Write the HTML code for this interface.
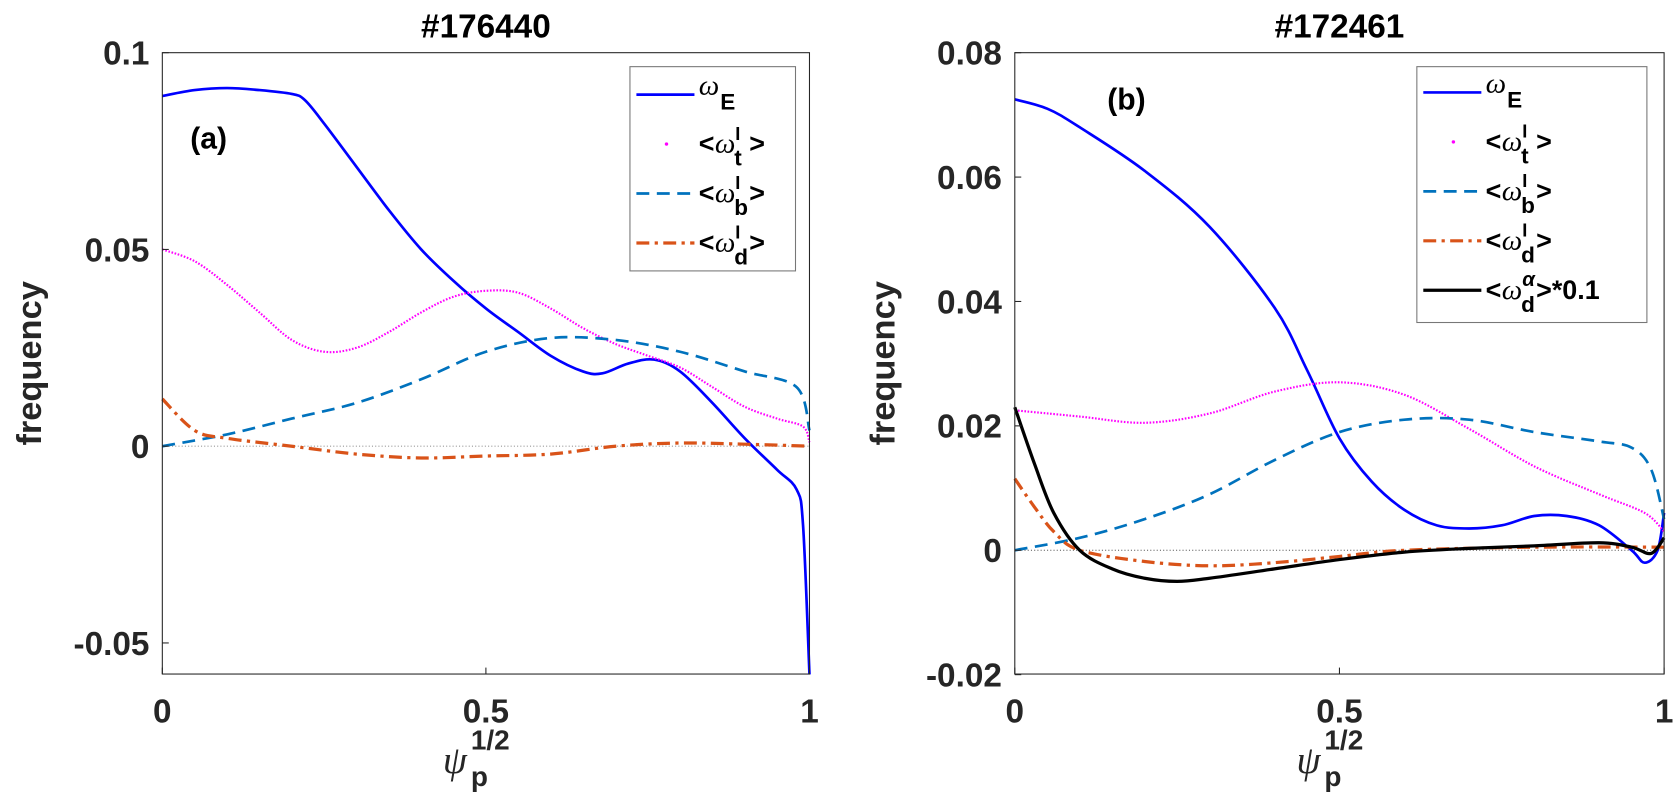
<!DOCTYPE html>
<html><head><meta charset="utf-8"><style>
html,body{margin:0;padding:0;background:#fff;}
svg{display:block;font-family:"Liberation Sans",sans-serif;font-weight:bold;}
</style></head><body>
<svg id="chart" width="1677" height="811" viewBox="0 0 1560 754.4" xmlns="http://www.w3.org/2000/svg"></svg>
<script>
// Panel (a) data
const xA_E=[0,0.05,0.1,0.15,0.2,0.22,0.25,0.3,0.35,0.4,0.45,0.5,0.55,0.6,0.65,0.68,0.72,0.76,0.8,0.85,0.9,0.95,0.98,0.99,1.0];
const yA_E=[0.089,0.0905,0.091,0.0905,0.0895,0.088,0.082,0.071,0.06,0.05,0.042,0.035,0.029,0.023,0.019,0.0185,0.021,0.022,0.019,0.011,0.002,-0.006,-0.011,-0.02,-0.058];
const xA_t=[0,0.05,0.1,0.15,0.2,0.25,0.3,0.35,0.4,0.45,0.5,0.55,0.6,0.65,0.7,0.75,0.8,0.85,0.9,0.95,0.99,1.0];
const yA_t=[0.050,0.047,0.041,0.034,0.027,0.024,0.025,0.029,0.034,0.038,0.0395,0.039,0.035,0.030,0.026,0.023,0.020,0.015,0.010,0.007,0.005,0.001];
const xA_b=[0,0.1,0.2,0.3,0.4,0.5,0.6,0.7,0.8,0.9,0.98,1.0];
const yA_b=[0,0.003,0.007,0.011,0.017,0.024,0.0275,0.027,0.024,0.019,0.015,0.004];
const xA_d=[0,0.05,0.1,0.2,0.3,0.4,0.5,0.6,0.7,0.8,0.9,1.0];
const yA_d=[0.012,0.004,0.002,0.0,-0.002,-0.003,-0.0025,-0.002,0.0,0.0008,0.0005,0.0];
// Panel (b) data
const xB_E=[0,0.05,0.1,0.2,0.3,0.4,0.45,0.5,0.55,0.6,0.65,0.7,0.75,0.8,0.85,0.9,0.95,0.97,0.99,1.0];
const yB_E=[0.0725,0.071,0.068,0.061,0.052,0.039,0.029,0.018,0.011,0.0065,0.004,0.0035,0.004,0.0055,0.0055,0.004,0.0,-0.002,0.0,0.006];
const xB_t=[0,0.1,0.2,0.3,0.4,0.5,0.6,0.7,0.8,0.9,0.97,1.0];
const yB_t=[0.0225,0.0215,0.0205,0.022,0.0255,0.027,0.025,0.0195,0.0135,0.009,0.006,0.003];
const xB_b=[0,0.1,0.2,0.3,0.4,0.5,0.6,0.7,0.8,0.9,0.95,0.98,1.0];
const yB_b=[0,0.002,0.005,0.009,0.0145,0.019,0.021,0.021,0.019,0.0175,0.0165,0.013,0.005];
const xB_d=[0,0.03,0.06,0.1,0.2,0.3,0.4,0.5,0.6,0.8,1.0];
const yB_d=[0.0115,0.007,0.003,0.0,-0.0018,-0.0025,-0.002,-0.001,0,0.0005,0.0005];
const xB_a=[0,0.03,0.06,0.1,0.15,0.2,0.25,0.3,0.4,0.5,0.6,0.7,0.8,0.9,0.95,0.98,1.0];
const yB_a=[0.023,0.014,0.006,0.0,-0.003,-0.0045,-0.005,-0.0045,-0.003,-0.0015,-0.0003,0.0003,0.0007,0.0012,0.0005,-0.0005,0.002];
const ticksA=[0.1,0.05,0,-0.05];
const ticksAlbl=["0.1","0.05","0","-0.05"];
const ticksB=[0.08,0.06,0.04,0.02,0,-0.02];
const ticksBlbl=["0.08","0.06","0.04","0.02","0","-0.02"];
const xticks=[0,0.5,1];
const xtickLbl=["0","0.5","1"];

const NS="http://www.w3.org/2000/svg";
const svg=document.getElementById('chart');
function el(tag,attrs,parent,text){const e=document.createElementNS(NS,tag);for(const k in attrs)e.setAttribute(k,attrs[k]);if(text!==undefined)e.textContent=text;(parent||svg).appendChild(e);return e;}
function smooth(P){
  let d='M'+P[0][0].toFixed(1)+','+P[0][1].toFixed(1);
  for(let i=0;i<P.length-1;i++){
    const p0=P[Math.max(0,i-1)],p1=P[i],p2=P[i+1],p3=P[Math.min(P.length-1,i+2)];
    const c1=[p1[0]+(p2[0]-p0[0])/6,p1[1]+(p2[1]-p0[1])/6];
    const c2=[p2[0]-(p3[0]-p1[0])/6,p2[1]-(p3[1]-p1[1])/6];
    d+='C'+c1[0].toFixed(1)+','+c1[1].toFixed(1)+' '+c2[0].toFixed(1)+','+c2[1].toFixed(1)+' '+p2[0].toFixed(1)+','+p2[1].toFixed(1);
  }
  return d;
}

function panel(cfg){
  const g=el('g',{});
  
  
  const sx=v=>cfg.x0+(cfg.x1-cfg.x0)*v;
  const sy=v=>cfg.y0+(cfg.ymax-v)/(cfg.ymax-cfg.ymin)*(cfg.y1-cfg.y0);
  const z=el('line',{x1:cfg.x0,x2:cfg.x1,y1:sy(0),y2:sy(0),stroke:cfg.zc,'stroke-width':1,'stroke-dasharray':'1,2'},g);
  
  
  cfg.series.forEach(s=>{
    const P=s.x.map((v,i)=>[sx(v),sy(s.y[i])]);
    const p=el('path',{d:smooth(P),fill:'none',stroke:s.c,'stroke-width':s.w,'stroke-dasharray':s.dash||'','stroke-linejoin':'round'},g);
    
    
  });
  const b=el('rect',{x:cfg.x0,y:cfg.y0,width:cfg.x1-cfg.x0,height:cfg.y1-cfg.y0,fill:'none',stroke:'#262626','stroke-width':1},g);
  
  
  cfg.yt.forEach((v,i)=>{
    el('line',{x1:cfg.x0,x2:cfg.x0+6,y1:sy(v),y2:sy(v),stroke:'#262626'},g);
    const t=el('text',{x:cfg.x0-12,y:sy(v)+11,'text-anchor':'end','font-size':31,fill:'#262626'},g,cfg.ytl[i]);
    
    
  });
  xticks.forEach((v,i)=>{
    el('line',{x1:sx(v),x2:sx(v),y1:cfg.y1,y2:cfg.y1-6,stroke:'#262626'},g);
    const t=el('text',{x:sx(v),y:cfg.y1+45,'text-anchor':'middle','font-size':31,fill:'#262626'},g,xtickLbl[i]);
    
    
  });
  const ti=el('text',{x:(cfg.x0+cfg.x1)/2,y:35,'text-anchor':'middle','font-size':31,fill:'#000'},g,cfg.title);
  
  
  const cx=(cfg.x0+cfg.x1)/2;
  const xl=el('text',{x:cx-40,y:cfg.y1+92,'font-size':36,fill:'#262626','font-style':'italic','font-weight':'normal','font-family':'Liberation Serif,serif'},g,'ψ');
  
  
  el('text',{x:cx-14,y:cfg.y1+70,'font-size':26,fill:'#262626'},g,'1/2');
  el('text',{x:cx-14,y:cfg.y1+104,'font-size':26,fill:'#262626'},g,'p');
  const yl=el('text',{transform:`translate(${cfg.ylx},${(cfg.y0+cfg.y1)/2}) rotate(-90)`,'text-anchor':'middle','font-size':32,fill:'#262626'},g,'frequency');
  
  
  const lab=el('text',{x:cfg.labx,y:cfg.laby,'font-size':28,fill:'#000'},g,cfg.lab);
  
  
  const L=cfg.leg;
  const lg=el('g',{},g);
  
  
  el('rect',{x:L.x,y:L.y,width:L.w,height:L.h,fill:'#fff',stroke:'#777','stroke-width':1},lg);
  cfg.series.forEach((s,i)=>{
    const yy=L.y+L.top+i*L.dy;
    const e=el('g',{},lg);
    
    
    if(s.dots){
      el('circle',{cx:L.x+34,cy:yy,r:1.6,fill:s.c},e);
    } else {
      el('line',{x1:L.x+6,x2:L.x+60,y1:yy,y2:yy,stroke:s.c,'stroke-width':s.w,'stroke-dasharray':s.dash||''},e);
    }
    const tx=L.x+64;
    if(i==0){
      el('text',{x:tx,y:yy,'font-size':27,'font-style':'italic','font-weight':'normal','font-family':'Liberation Serif,serif',fill:'#000'},e,'ω');
      el('text',{x:tx+20,y:yy+14,'font-size':21,fill:'#000'},e,'E');
    } else {
      el('text',{x:tx,y:yy+8,'font-size':25,fill:'#000'},e,'<');
      el('text',{x:tx+15,y:yy+8,'font-size':27,'font-style':'italic','font-weight':'normal','font-family':'Liberation Serif,serif',fill:'#000'},e,'ω');
      el('text',{x:tx+34,y:yy-4,'font-size':s.sup=='α'?19:17,'font-style':s.sup=='α'?'italic':'normal',fill:'#000'},e,s.sup);
      el('text',{x:tx+33,y:yy+20,'font-size':21,fill:'#000'},e,s.sub);
      el('text',{x:tx+47,y:yy+8,'font-size':25,fill:'#000'},e,'>'+(s.tail||''));
    }
  });
}
const cA=[
 {n:'omega-E-line',x:xA_E,y:yA_E,c:'#0000ff',w:2.5},
 {n:'omega-t-line',x:xA_t,y:yA_t,c:'#ff00ff',w:2,dash:'1.5,1.5',dots:true,sup:'I',sub:'t'},
 {n:'omega-b-line',x:xA_b,y:yA_b,c:'#0072bd',w:2.5,dash:'12,7',sup:'I',sub:'b'},
 {n:'omega-d-line',x:xA_d,y:yA_d,c:'#d95319',w:3,dash:'12,5,3,5',sup:'I',sub:'d'}];
panel({name:'panel-a',x0:151,x1:753,y0:49,y1:627,ymax:0.1,ymin:-0.0579,yt:ticksA,ytl:ticksAlbl,title:'#176440',ylx:38,labx:177,laby:138,lab:'(a)',zc:'#999',
 series:cA,leg:{x:586,y:62,w:154,h:190,top:26,dy:46}});
const cB=[
 {n:'omega-E-line',x:xB_E,y:yB_E,c:'#0000ff',w:2.5},
 {n:'omega-t-line',x:xB_t,y:yB_t,c:'#ff00ff',w:2,dash:'1.5,1.5',dots:true,sup:'I',sub:'t'},
 {n:'omega-b-line',x:xB_b,y:yB_b,c:'#0072bd',w:2.5,dash:'12,7',sup:'I',sub:'b'},
 {n:'omega-d-line',x:xB_d,y:yB_d,c:'#d95319',w:3,dash:'12,5,3,5',sup:'I',sub:'d'},
 {n:'omega-alpha-line',x:xB_a,y:yB_a,c:'#000',w:3,sup:'α',sub:'d',tail:'*0.1'}];
panel({name:'panel-b',x0:944,x1:1548,y0:49,y1:627,ymax:0.08,ymin:-0.0199,yt:ticksB,ytl:ticksBlbl,title:'#172461',ylx:832,labx:1030,laby:102,lab:'(b)',zc:'#555',
 series:cB,leg:{x:1318,y:62,w:214,h:238,top:24,dy:46}});
</script>
</body></html>
